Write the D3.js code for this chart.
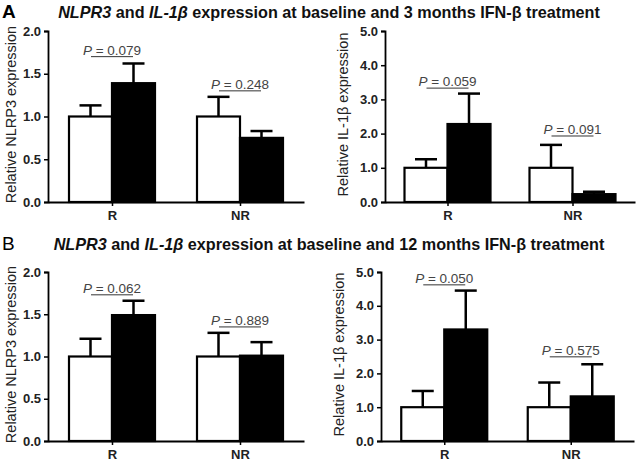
<!DOCTYPE html>
<html>
<head>
<meta charset="utf-8">
<script src="https://cdn.jsdelivr.net/npm/d3@7"></script>
<style>
  body { margin: 0; background: #fff; }
  svg { font-family: "Liberation Sans", Arial, sans-serif; }
  .tick text { font-size: 13px; font-weight: bold; fill: #222; }
  .xax .tick text { font-size: 13px; }
</style>
</head>
<body>
<div id="chart"></div>
<script>
var categories = ["R", "NR"];

// panel A, 3 months
var nlrpA_base = [1.0, 1.0], nlrpA_baseErr = [0.13, 0.23];
var nlrpA_treat = [1.39, 0.75], nlrpA_treatErr = [0.23, 0.08];
var nlrpA_p = ["0.079", "0.248"], nlrpA_pY = [1.70, 1.30];

var ilA_base = [1.0, 1.0], ilA_baseErr = [0.25, 0.67];
var ilA_treat = [2.28, 0.23], ilA_treatErr = [0.89, 0.07];
var ilA_p = ["0.059", "0.091"], ilA_pY = [3.33, 1.93];

// panel B, 12 months
var nlrpB_base = [1.0, 1.0], nlrpB_baseErr = [0.21, 0.28];
var nlrpB_treat = [1.49, 1.01], nlrpB_treatErr = [0.17, 0.16];
var nlrpB_p = ["0.062", "0.889"], nlrpB_pY = [1.73, 1.35];

var ilB_base = [1.0, 1.0], ilB_baseErr = [0.48, 0.73];
var ilB_treat = [3.30, 1.32], ilB_treatErr = [1.15, 0.95];
var ilB_p = ["0.050", "0.575"], ilB_pY = [4.62, 2.49];

var nlrpTicks = [0, 0.5, 1.0, 1.5, 2.0];
var ilTicks = [0, 1.0, 2.0, 3.0, 4.0, 5.0];

var svg = d3.select("#chart").append("svg")
    .attr("width", 640).attr("height", 466);

function panel(o) {
  var g = svg.append("g").attr("transform", "translate(" + o.left + "," + o.top + ")");
  var x = d3.scalePoint().domain(categories).range([0, o.w]).padding(0.5);
  var y = d3.scaleLinear().domain([0, o.max]).range([o.h, 0]);
  var bw = 43;

  var rows = categories.map(function(c, i) {
    return [
      {c: c, side: -1, v: o.base[i], e: o.baseErr[i], fill: "#fff"},
      {c: c, side: 0, v: o.treat[i], e: o.treatErr[i], fill: "#000"}
    ];
  });
  var bars = [].concat.apply([], rows);

  // error bars (upper only)
  bars.forEach(function(d) {
    var cx = x(d.c) + d.side * bw + bw / 2;
    g.append("line").attr("x1", cx).attr("x2", cx)
      .attr("y1", y(d.v)).attr("y2", y(d.v + d.e))
      .attr("stroke", "#000").attr("stroke-width", 2.5);
    g.append("line").attr("x1", cx - 11).attr("x2", cx + 11)
      .attr("y1", y(d.v + d.e)).attr("y2", y(d.v + d.e))
      .attr("stroke", "#000").attr("stroke-width", 2.5);
  });

  g.selectAll(".bar").data(bars).enter().append("rect")
    .attr("x", function(d) { return x(d.c) + d.side * bw; })
    .attr("y", function(d) { return y(d.v); })
    .attr("width", bw)
    .attr("height", function(d) { return y(0) - y(d.v); })
    .attr("fill", function(d) { return d.fill; })
    .attr("stroke", "#000").attr("stroke-width", 2.2);

  // p-value labels
  categories.forEach(function(c, i) {
    var py = y(o.pY[i]);
    g.append("line").attr("x1", x(c) - 21).attr("x2", x(c) + 21)
      .attr("y1", py).attr("y2", py).attr("stroke", "#333").attr("stroke-width", 1);
    var t = g.append("text").attr("x", x(c)).attr("y", py - 2)
      .attr("text-anchor", "middle").attr("font-size", 13.5).attr("fill", "#444");
    t.append("tspan").attr("font-style", "italic").text("P");
    t.append("tspan").text(" = " + o.p[i]);
  });

  var yAxis = d3.axisLeft(y).tickValues(o.ticks).tickFormat(d3.format(".1f"))
    .tickSize(4).tickSizeOuter(4).tickPadding(3);
  var ya = g.append("g").call(yAxis);
  ya.select(".domain").attr("stroke-width", 1.8);
  ya.selectAll(".tick line").attr("stroke-width", 1.5);

  var xa = g.append("g").attr("class", "xax").attr("transform", "translate(0," + o.h + ")")
    .call(d3.axisBottom(x).tickSize(4).tickSizeOuter(0).tickPadding(5));
  xa.select(".domain").attr("stroke-width", 1.8);
  xa.selectAll(".tick line").attr("stroke-width", 1.5);

  svg.append("text")
    .attr("transform", "translate(" + o.labelX + "," + (o.top + o.h / 2 - 2) + ") rotate(-90)")
    .attr("text-anchor", "middle").attr("font-size", 14.5).attr("fill", "#222")
    .text(o.label);
}

function title(letter, y, months, bold) {
  svg.append("text").attr("x", 2).attr("y", y).attr("font-size", 19)
    .attr("font-weight", bold ? "bold" : "normal").text(letter);
  var t = svg.append("text").attr("x", 329).attr("y", y)
    .attr("text-anchor", "middle").attr("font-size", 16.2).attr("font-weight", "bold").attr("fill", "#111");
  t.append("tspan").attr("font-style", "italic").text("NLPR3");
  t.append("tspan").text(" and ");
  t.append("tspan").attr("font-style", "italic").text("IL-1\u03B2");
  t.append("tspan").text(" expression at baseline and " + months + " months IFN-\u03B2 treatment");
}

title("A", 18, 3, true);
title("B", 250, 12, false);

panel({left: 48, top: 31, w: 256, h: 171, max: 2, ticks: nlrpTicks,
  base: nlrpA_base, baseErr: nlrpA_baseErr, treat: nlrpA_treat, treatErr: nlrpA_treatErr,
  p: nlrpA_p, pY: nlrpA_pY, label: "Relative NLRP3 expression", labelX: 16});
panel({left: 385, top: 31, w: 250, h: 171, max: 5, ticks: ilTicks,
  base: ilA_base, baseErr: ilA_baseErr, treat: ilA_treat, treatErr: ilA_treatErr,
  p: ilA_p, pY: ilA_pY, label: "Relative IL-1\u03B2 expression", labelX: 348});
panel({left: 48, top: 272, w: 256, h: 169, max: 2, ticks: nlrpTicks,
  base: nlrpB_base, baseErr: nlrpB_baseErr, treat: nlrpB_treat, treatErr: nlrpB_treatErr,
  p: nlrpB_p, pY: nlrpB_pY, label: "Relative NLRP3 expression", labelX: 16});
panel({left: 381, top: 272, w: 253, h: 169, max: 5, ticks: ilTicks,
  base: ilB_base, baseErr: ilB_baseErr, treat: ilB_treat, treatErr: ilB_treatErr,
  p: ilB_p, pY: ilB_pY, label: "Relative IL-1\u03B2 expression", labelX: 344});
</script>
</body>
</html>
